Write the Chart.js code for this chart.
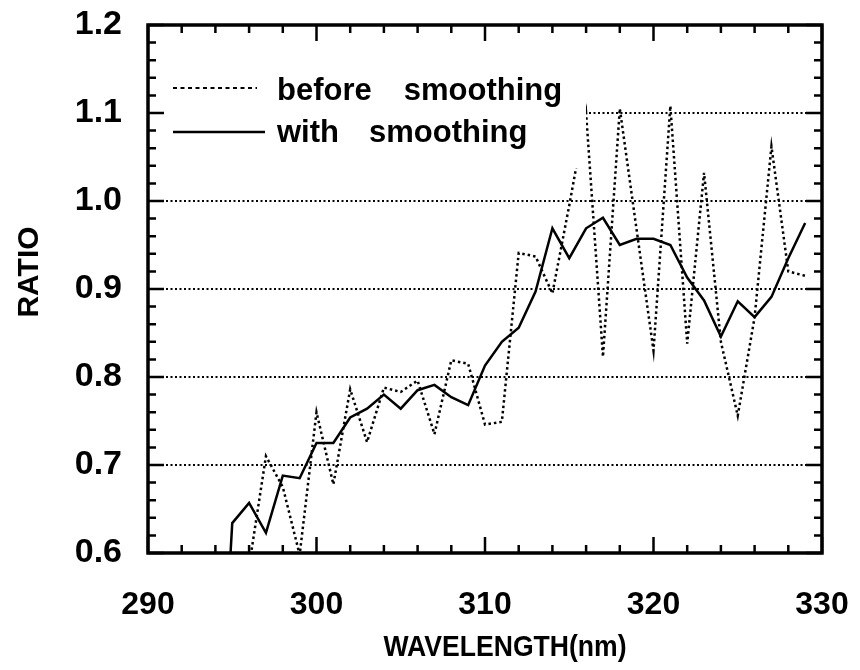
<!DOCTYPE html>
<html><head><meta charset="utf-8">
<script src="https://cdn.jsdelivr.net/npm/chart.js@4.4.0/dist/chart.umd.min.js"></script>
<style>html,body{margin:0;padding:0;background:#fff}#wrap{width:860px;height:670px;position:relative}</style>
</head><body><div id="wrap"><canvas id="c"></canvas></div>
<script>
const wavelengths = [294,295,296,297,298,299,300,301,302,303,304,305,306,307,308,309,310,311,312,313,314,315,316,317,318,319,320,321,322,323,324,325,326,327,328,329];
const beforeSmoothing = [null,null,0.585,0.71,0.675,0.598,0.76,0.678,0.786,0.726,0.788,0.783,0.796,0.735,0.819,0.815,0.746,0.749,0.941,0.937,0.895,0.995,1.10,0.823,1.105,0.967,0.830,1.108,0.838,1.032,0.840,0.756,0.868,1.062,0.920,0.915];
const withSmoothing = [0.30,0.634,0.657,0.623,0.688,0.685,0.725,0.725,0.754,0.764,0.780,0.764,0.785,0.791,0.777,0.768,0.813,0.840,0.856,0.897,0.969,0.935,0.969,0.981,0.950,0.957,0.957,0.950,0.913,0.887,0.846,0.886,0.868,0.891,0.935,0.975];
const seriesLabels = ['before smoothing', 'with smoothing'];
const xAxisTitle = 'WAVELENGTH(nm)';
const yAxisTitle = 'RATIO';

const FONT = "'Liberation Sans', Arial, Helvetica, sans-serif";
Chart.defaults.font.family = FONT;
Chart.defaults.color = '#000';

const toPoints = arr => wavelengths.map((w, i) => ({x: w, y: arr[i]}));

const tickFramePlugin = {
  id: 'tickFrame',
  afterDraw(chart) {
    const {ctx, chartArea: a} = chart;
    const xs = chart.scales.x, ys = chart.scales.y;
    ctx.save();
    ctx.strokeStyle = '#000';
    ctx.lineWidth = 2.5;
    ctx.beginPath();
    for (let v = xs.min; v <= xs.max + 1e-9; v += 2) {
      const major = Math.abs(v / 10 - Math.round(v / 10)) < 1e-6;
      const len = major ? 16 : 8;
      const px = xs.getPixelForValue(v);
      ctx.moveTo(px, a.bottom); ctx.lineTo(px, a.bottom - len);
      ctx.moveTo(px, a.top); ctx.lineTo(px, a.top + len);
    }
    for (let k = 0; k <= 30; k++) {
      const v = ys.min + k * 0.02;
      const major = k % 5 === 0;
      const len = major ? 16 : 8;
      const py = ys.getPixelForValue(v);
      ctx.moveTo(a.left, py); ctx.lineTo(a.left + len, py);
      ctx.moveTo(a.right, py); ctx.lineTo(a.right - len, py);
    }
    ctx.stroke();
    ctx.lineWidth = 3.5;
    ctx.strokeRect(a.left, a.top, a.right - a.left, a.bottom - a.top);

    // axis titles
    ctx.fillStyle = '#000';
    ctx.font = "bold 30px " + FONT;
    ctx.textAlign = 'center';
    ctx.textBaseline = 'middle';
    const wx = ctx.measureText(xAxisTitle).width;
    ctx.save();
    ctx.translate(505, 648);
    ctx.scale(243 / wx, 1);
    ctx.fillText(xAxisTitle, 0, 0);
    ctx.restore();
    ctx.save();
    ctx.translate(30, 272);
    ctx.rotate(-Math.PI / 2);
    ctx.fillText(yAxisTitle, 0, 0);
    ctx.restore();
    ctx.restore();
  }
};

const legendPlugin = {
  id: 'innerLegend',
  afterDatasetsDraw(chart) {
    const {ctx, chartArea: a} = chart;
    ctx.save();
    ctx.fillStyle = '#fff';
    ctx.fillRect(a.left + 2, a.top + 2, 586 - a.left - 2, 168 - a.top - 2);
    const rows = [
      {label: seriesLabels[0], y: 100, lineY: 88, x1: 173, x2: 257, dash: [4, 3.5], gap: 32},
      {label: seriesLabels[1], y: 142, lineY: 132, x1: 173, x2: 265, dash: [], gap: 30}
    ];
    ctx.strokeStyle = '#000';
    ctx.fillStyle = '#000';
    ctx.font = "bold 31px " + FONT;
    ctx.textBaseline = 'alphabetic';
    rows.forEach(r => {
      ctx.beginPath();
      ctx.lineWidth = r.dash.length ? 2 : 2.5;
      ctx.setLineDash(r.dash);
      ctx.moveTo(r.x1, r.lineY); ctx.lineTo(r.x2, r.lineY);
      ctx.stroke();
      const words = r.label.split(' ');
      let x = 277;
      words.forEach(w => {
        ctx.fillText(w, x, r.y);
        x += ctx.measureText(w).width + r.gap;
      });
    });
    ctx.restore();
  }
};

new Chart(document.getElementById('c'), {
  type: 'line',
  data: {
    datasets: [
      {label: seriesLabels[0], data: toPoints(beforeSmoothing), borderColor: '#000', borderWidth: 2.5, borderDash: [2.5, 3], pointRadius: 0, fill: false, tension: 0, spanGaps: false},
      {label: seriesLabels[1], data: toPoints(withSmoothing), borderColor: '#000', borderWidth: 2.5, pointRadius: 0, fill: false, tension: 0}
    ]
  },
  options: {
    responsive: true,
    maintainAspectRatio: false,
    animation: false,
    events: [],
    layout: {padding: {top: 25, right: 38, left: 0, bottom: 0}},
    plugins: {legend: {display: false}, tooltip: {enabled: false}},
    scales: {
      x: {
        type: 'linear', min: 290, max: 330,
        afterFit: s => { s.height = 117; s.paddingLeft = 0; s.paddingRight = 0; s.paddingTop = 0; s.paddingBottom = 0; },
        ticks: {stepSize: 10, font: {size: 32, weight: 'bold'}, padding: 33, color: '#000', maxRotation: 0},
        grid: {display: false, drawTicks: false},
        border: {display: false},
        title: {display: false}
      },
      y: {
        type: 'linear', min: 0.6, max: 1.2,
        afterFit: s => { s.width = 148; s.paddingLeft = 0; s.paddingRight = 0; s.paddingTop = 0; s.paddingBottom = 0; },
        ticks: {stepSize: 0.1, font: {size: 34, weight: 'bold'}, padding: 26, color: '#000', callback: v => v.toFixed(1)},
        grid: {
          drawTicks: false,
          lineWidth: 2,
          color: c => (c.tick && c.tick.value > 0.61 && c.tick.value < 1.19) ? '#000' : 'rgba(0,0,0,0)'
        },
        border: {display: false, dash: [2, 2.5]},
        title: {display: false}
      }
    }
  },
  plugins: [legendPlugin, tickFramePlugin]
});
</script></body></html>
